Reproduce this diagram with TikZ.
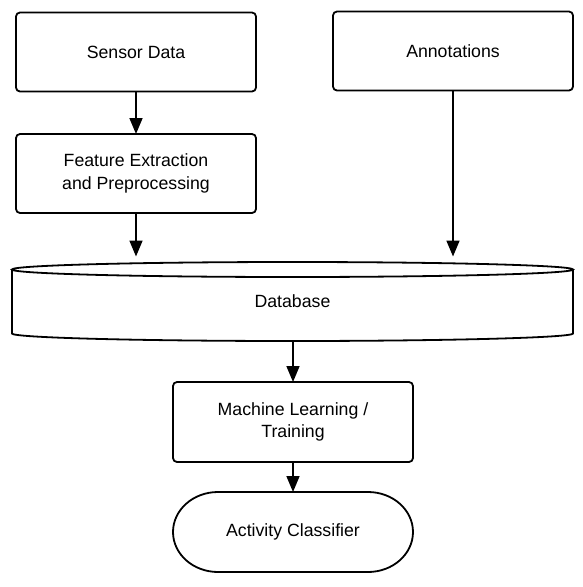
\documentclass[tikz,border=0pt]{standalone}
\usepackage{fontspec}
\setmainfont{Liberation Sans}
\usetikzlibrary{arrows.meta}
\begin{document}
\begin{tikzpicture}
  [x=1pt,y=1pt,line width=1.8pt,
   every node/.style={font=\fontsize{17.7}{22.3}\selectfont,align=center,outer sep=0pt},
   box/.style={draw,rounded corners=4pt,minimum width=240pt,minimum height=79pt,inner sep=0pt},
   plain/.style={inner sep=0pt,minimum width=240pt,minimum height=80pt},
   arr/.style={-{Triangle[length=16pt,width=13pt]},line width=1.7pt}]
  \useasboundingbox (0,0) rectangle (583,-587);

  \node[box] (sensor) at (136,-52) {Sensor Data};
  \node[box] (annot) at (453,-51) {Annotations};
  \node[box] (feature) at (136,-173.5) {Feature Extraction\\and Preprocessing};
  \node[plain,minimum width=561pt,minimum height=64pt] (db) at (292.5,-301.5) {Database};
  \node[box,minimum height=80pt] (ml) at (293,-422) {Machine Learning /\\Training};
  \node[plain] (act) at (293,-532) {Activity Classifier};

  % cylinder for the database
  \draw (db.north) ellipse [x radius=280.5, y radius=7.5];
  \draw (db.north west) -- (db.south west)
    arc [start angle=180, end angle=360, x radius=280.5, y radius=7.5]
    -- (db.north east);
  \coordinate (dbtop) at ([yshift=13pt]db.north);
  \coordinate (dbbot) at ([yshift=-7.5pt]db.south);

  % terminator
  \draw ([xshift=45pt]act.north west) -- ([xshift=-45pt]act.north east)
    arc [start angle=90, end angle=-90, x radius=45, y radius=40]
    -- ([xshift=45pt]act.south west)
    arc [start angle=270, end angle=90, x radius=45, y radius=40] -- cycle;

  \draw[arr] (sensor) -- (feature);
  \draw[arr] (feature.south) -- (feature.south |- dbtop);
  \draw[arr] (annot.south) -- (annot.south |- dbtop);
  \draw[arr] (dbbot -| ml.north) -- (ml.north);
  \draw[arr] (ml.south) -- (act.north);

\end{tikzpicture}
\end{document}
